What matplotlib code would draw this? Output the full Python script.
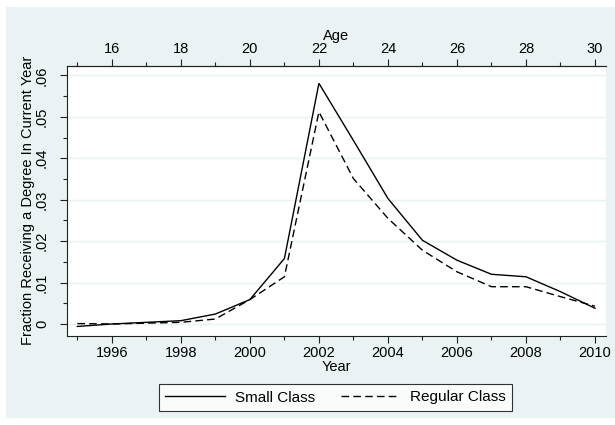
import matplotlib
matplotlib.use("Agg")
import matplotlib.pyplot as plt
from matplotlib.patches import Rectangle
from matplotlib.lines import Line2D
from matplotlib.ticker import FixedLocator

plt.rcParams['font.family'] = ['Liberation Sans', 'DejaVu Sans']

years = [1995, 1996, 1997, 1998, 1999, 2000, 2001, 2002, 2003, 2004, 2005, 2006, 2007, 2008, 2009, 2010]
small_class = [-0.0006, 0.0000, 0.0004, 0.0008, 0.0024, 0.0059, 0.0158, 0.0581, 0.0443, 0.0303, 0.0202, 0.0154, 0.0120, 0.0114, 0.0078, 0.0038]
regular_class = [0.0001, 0.0000, 0.0002, 0.0004, 0.0012, 0.0059, 0.0114, 0.0512, 0.0351, 0.0255, 0.0178, 0.0126, 0.0090, 0.0090, 0.0066, 0.0043]
y_ticks = [0, 0.01, 0.02, 0.03, 0.04, 0.05, 0.06]
y_tick_labels = ["0", ".01", ".02", ".03", ".04", ".05", ".06"]
year_ticks = [1996, 1998, 2000, 2002, 2004, 2006, 2008, 2010]
age_ticks = [16, 18, 20, 22, 24, 26, 28, 30]
age_offset = 1980

W, H = 615, 425
bg = '#EAF2F3'
fs = 10.5
dash = (5.5, 3)
fig = plt.figure(figsize=(W / 100, H / 100), dpi=100, facecolor='white')
fig.patches.append(Rectangle((6 / W, 7 / H), 1 - 6 / W, (418 - 7) / H,
                             transform=fig.transFigure, facecolor=bg,
                             edgecolor='none', zorder=-10))

ax = fig.add_axes([67 / W, (H - 336) / H, (605.7 - 67) / W, (336 - 65.5) / H])
ax.set_facecolor('white')
xl = (1994.70, 2010.31)
ax.set_xlim(*xl)
ax.set_ylim(-0.0029, 0.0624)

ax.plot(years, small_class, color='black', lw=1.0, solid_joinstyle='miter')
ax.plot(years, regular_class, color='black', lw=1.0, dashes=dash)

ax.spines['right'].set_visible(False)
for s in ['left', 'bottom', 'top']:
    ax.spines[s].set_color('#222222')
    ax.spines[s].set_linewidth(0.8)

ax.set_yticks(y_ticks)
ax.set_yticklabels(y_tick_labels, rotation=90, va='center')
ax.yaxis.set_minor_locator(FixedLocator([0.005, 0.015, 0.025, 0.035, 0.045, 0.055]))
ax.set_xticks(year_ticks)
ax.xaxis.set_minor_locator(FixedLocator(list(range(1995, 2011, 2))))
ax.tick_params(axis='both', which='major', direction='out', length=5, width=0.8,
               color='#222222', labelsize=fs, pad=2)
ax.tick_params(axis='y', which='major', pad=8)
ax.tick_params(axis='both', which='minor', direction='out', length=3, width=0.8, color='#222222')
ax.grid(axis='y', which='major', color=bg, lw=1.0)
ax.set_axisbelow(True)

ax.set_xlabel('Year', fontsize=fs, labelpad=0)
ax.set_ylabel('Fraction Receiving a Degree In Current Year', fontsize=fs, labelpad=0)

ax2 = ax.twiny()
ax2.set_xlim(xl[0] - age_offset, xl[1] - age_offset)
ax2.set_xticks(age_ticks)
ax2.xaxis.set_minor_locator(FixedLocator(list(range(15, 30, 2))))
ax2.tick_params(axis='x', which='major', direction='out', length=5, width=0.8,
                color='#222222', labelsize=fs, pad=2)
ax2.tick_params(axis='x', which='minor', direction='out', length=3, width=0.8, color='#222222')
for s in ['right', 'left', 'bottom']:
    ax2.spines[s].set_visible(False)
ax2.spines['top'].set_color('#222222')
ax2.spines['top'].set_linewidth(0.8)
ax2.set_xlabel('Age', fontsize=fs, labelpad=1)

handles = [Line2D([], [], color='black', lw=1.0),
           Line2D([], [], color='black', lw=1.0, dashes=dash)]
leg = fig.legend(handles, ['Small Class', 'Regular Class'], ncol=2,
                 loc='center', bbox_to_anchor=(335.5 / W, (H - 397.5) / H),
                 frameon=True, fancybox=False, edgecolor='black', fontsize=11,
                 handlelength=3.9, columnspacing=1.7, borderpad=0.4, handletextpad=0.65)
leg.get_frame().set_linewidth(0.8)
leg.get_frame().set_facecolor('white')

fig.savefig('out.png', dpi=100, facecolor='white')
